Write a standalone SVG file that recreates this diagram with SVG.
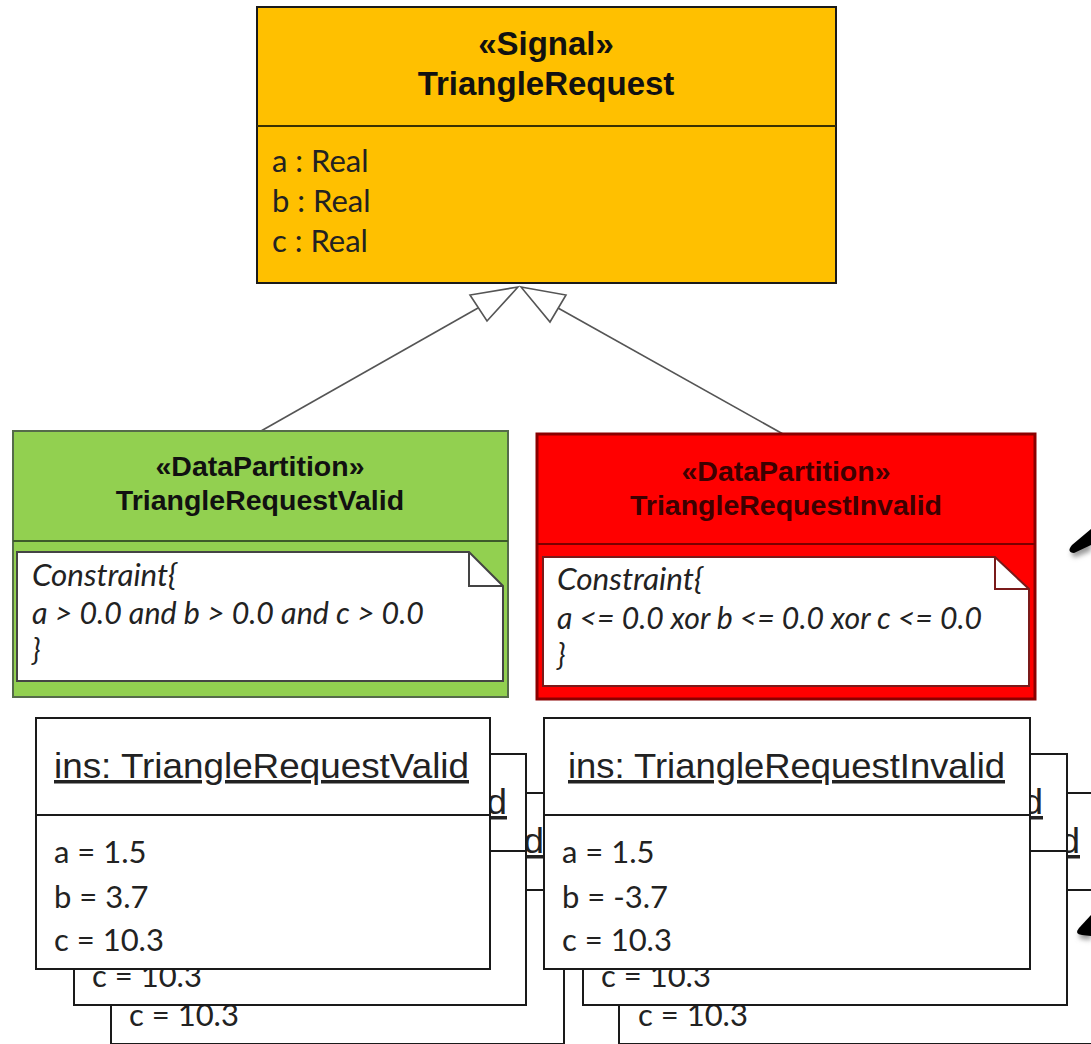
<svg xmlns="http://www.w3.org/2000/svg" width="1091" height="1044" viewBox="0 0 1091 1044">
<defs>
<style>
.hdr{font-family:"Liberation Sans",Arial,sans-serif;font-weight:bold;text-anchor:middle}
.attr{font-family:Lato,"Liberation Sans",sans-serif;font-size:31px;fill:#222}
.cons{font-family:Lato,"Liberation Sans",sans-serif;font-style:italic;font-size:30px;fill:#222}
.ttl{font-family:"Liberation Sans",Arial,sans-serif;font-size:35px;fill:#222;text-decoration:underline}
.ibox{fill:#fff;stroke:#1a1a1a;stroke-width:2}
.conn{stroke:#555;stroke-width:1.6;fill:none}
.head{fill:#fff;stroke:#555;stroke-width:1.6;stroke-linejoin:miter}
</style>
<filter id="sh" x="-50%" y="-50%" width="200%" height="200%"><feGaussianBlur stdDeviation="2.5"/></filter>
</defs>
<rect width="1091" height="1044" fill="#fff"/>

<g id="TriangleRequest">
<rect x="257" y="7" width="579" height="276" fill="#FFC000" stroke="#1a1a1a" stroke-width="2"/>
<line x1="257" y1="126" x2="836" y2="126" stroke="#3a3000" stroke-width="2"/>
<text class="hdr" x="546" y="55" font-size="33" fill="#111">«Signal»</text>
<text class="hdr" x="546" y="95" font-size="33" fill="#111">TriangleRequest</text>
<text class="attr" x="272" y="172">a : Real</text>
<text class="attr" x="272" y="212">b : Real</text>
<text class="attr" x="272" y="252">c : Real</text>
</g>

<g id="connectors">
<line class="conn" x1="261" y1="431" x2="478" y2="308"/>
<polygon class="head" points="518,287 470,295 487,321"/>
<line class="conn" x1="783" y1="434" x2="558" y2="308"/>
<polygon class="head" points="521,287 566,295 550,322"/>
</g>

<g id="TriangleRequestValid">
<rect x="13" y="431" width="495" height="266" fill="#92D050" stroke="#556b4a" stroke-width="2"/>
<line x1="13" y1="541" x2="508" y2="541" stroke="#3d5a2a" stroke-width="2"/>
<text class="hdr" x="260" y="476" font-size="28.5" fill="#111">«DataPartition»</text>
<text class="hdr" x="260" y="510" font-size="28.5" fill="#111">TriangleRequestValid</text>
<path d="M17,552 H469 L503,586 V681 H17 Z" fill="#fff" stroke="#444" stroke-width="2"/>
<path d="M469,552 V586 H503" fill="none" stroke="#444" stroke-width="2"/>
<text class="cons" x="32" y="586" textLength="145" lengthAdjust="spacingAndGlyphs">Constraint{</text>
<text class="cons" x="32" y="624" textLength="392" lengthAdjust="spacingAndGlyphs">a &gt; 0.0 and b &gt; 0.0 and c &gt; 0.0</text>
<text class="cons" x="32" y="661">}</text>
</g>

<g id="TriangleRequestInvalid">
<rect x="537" y="434" width="498" height="265" fill="#FF0000" stroke="#8B0000" stroke-width="3"/>
<line x1="537" y1="544" x2="1035" y2="544" stroke="#7a0000" stroke-width="2"/>
<text class="hdr" x="786" y="481" font-size="28.5" fill="#3d0000">«DataPartition»</text>
<text class="hdr" x="786" y="515" font-size="28.5" fill="#3d0000">TriangleRequestInvalid</text>
<path d="M543,557 H995 L1029,589 V686 H543 Z" fill="#fff" stroke="#7a1a1a" stroke-width="2"/>
<path d="M995,557 V589 H1029" fill="none" stroke="#7a1a1a" stroke-width="2"/>
<text class="cons" x="557" y="590" textLength="146" lengthAdjust="spacingAndGlyphs">Constraint{</text>
<text class="cons" x="557" y="629" textLength="425" lengthAdjust="spacingAndGlyphs">a &lt;= 0.0 xor b &lt;= 0.0 xor c &lt;= 0.0</text>
<text class="cons" x="557" y="666">}</text>
</g>

<g id="validInstance3">
<rect class="ibox" x="111" y="793" width="453" height="251"/>
<line x1="111" y1="890" x2="564" y2="890" stroke="#1a1a1a" stroke-width="2"/>
<text class="ttl" x="129" y="853" textLength="415" lengthAdjust="spacingAndGlyphs">ins: TriangleRequestValid</text>
<text class="attr" x="129" y="1026">c = 10.3</text>
</g>
<g id="validInstance2">
<rect class="ibox" x="74" y="754" width="452" height="251"/>
<line x1="74" y1="851" x2="526" y2="851" stroke="#1a1a1a" stroke-width="2"/>
<text class="ttl" x="92" y="814" textLength="415" lengthAdjust="spacingAndGlyphs">ins: TriangleRequestValid</text>
<text class="attr" x="92" y="987">c = 10.3</text>
</g>
<g id="validInstance1">
<rect class="ibox" x="36" y="718" width="454" height="251"/>
<line x1="36" y1="815" x2="490" y2="815" stroke="#1a1a1a" stroke-width="2"/>
<text class="ttl" x="54" y="778" textLength="415" lengthAdjust="spacingAndGlyphs">ins: TriangleRequestValid</text>
<text class="attr" x="54" y="863">a = 1.5</text>
<text class="attr" x="54" y="908">b = 3.7</text>
<text class="attr" x="54" y="951">c = 10.3</text>
</g>

<g id="invalidInstance3">
<rect class="ibox" x="619" y="793" width="486" height="251"/>
<line x1="619" y1="890" x2="1105" y2="890" stroke="#1a1a1a" stroke-width="2"/>
<text class="ttl" x="643" y="853" textLength="437" lengthAdjust="spacingAndGlyphs">ins: TriangleRequestInvalid</text>
<text class="attr" x="638" y="1026">c = 10.3</text>
</g>
<g id="invalidInstance2">
<rect class="ibox" x="583" y="754" width="484" height="251"/>
<line x1="583" y1="851" x2="1067" y2="851" stroke="#1a1a1a" stroke-width="2"/>
<text class="ttl" x="606" y="814" textLength="437" lengthAdjust="spacingAndGlyphs">ins: TriangleRequestInvalid</text>
<text class="attr" x="601" y="987">c = 10.3</text>
</g>
<g id="invalidInstance1">
<rect class="ibox" x="544" y="718" width="486" height="251"/>
<line x1="544" y1="815" x2="1030" y2="815" stroke="#1a1a1a" stroke-width="2"/>
<text class="ttl" x="568" y="778" textLength="437" lengthAdjust="spacingAndGlyphs">ins: TriangleRequestInvalid</text>
<text class="attr" x="562" y="863">a = 1.5</text>
<text class="attr" x="562" y="908">b = -3.7</text>
<text class="attr" x="562" y="951">c = 10.3</text>
</g>

<g id="pointers">
<path d="M1091,534 L1074,548 Q1068,556 1076,557 L1091,551 Z" fill="#999" filter="url(#sh)"/>
<path d="M1091,529 L1072,545 Q1066,552 1074,553 L1091,545 Z" fill="#000"/>
<path d="M1091,920 L1081,931 Q1076,939 1084,939 L1091,940 Z" fill="#999" filter="url(#sh)"/>
<path d="M1091,915 L1079,928 Q1074,934 1082,935 L1091,936 Z" fill="#000"/>
</g>
</svg>
